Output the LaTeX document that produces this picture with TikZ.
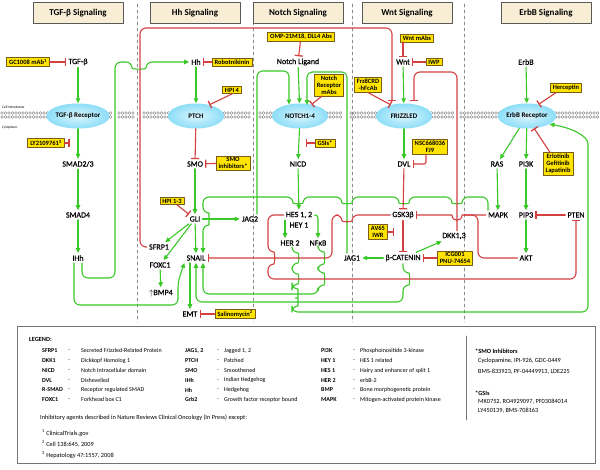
\documentclass[tikz,border=0pt]{standalone}
\usepackage{fontspec}
\setmainfont{Carlito}
\newfontfamily\molfont[FakeBold=0.5]{Carlito}
\usetikzlibrary{arrows.meta,shapes.geometric}
\definecolor{grn}{RGB}{58,200,40}
\definecolor{rd}{RGB}{212,64,64}
\definecolor{ylw}{RGB}{255,228,0}
\definecolor{ylwb}{RGB}{120,92,24}
\definecolor{bge}{RGB}{248,238,214}
\definecolor{cyn}{RGB}{140,222,248}
\definecolor{mbr}{RGB}{125,125,125}

\tikzset{
  hdr/.style={draw=black!65,fill=bge,line width=0.8pt,minimum width=90pt,minimum height=21pt,
    font=\fontsize{9}{10}\selectfont\bfseries},
  mol/.style={inner sep=2pt,font=\molfont\fontsize{8}{9}\selectfont},
  rcpt/.style={ellipse,shade,inner color=cyn!30,outer color=cyn,minimum width=56pt,minimum height=25pt,
    inner sep=0pt,font=\fontsize{7}{8}\selectfont\bfseries},
  drug/.style={draw=ylwb,fill=ylw,line width=0.6pt,align=center,inner xsep=2.5pt,inner ysep=1.5pt,
    font=\fontsize{6.5}{7}\selectfont\bfseries},
  act/.style={grn,line width=1.1pt,-{Triangle[length=5pt,width=4.5pt]}},
  inh/.style={rd,line width=1.1pt,-{Bar[width=8pt,line width=1.3pt]}},
  rdline/.style={rd,line width=1.1pt},
  membr/.style={mbr,line width=3.3pt,dash pattern=on 0pt off 3.5pt},
  membw/.style={white,line width=1.7pt,dash pattern=on 0pt off 3.5pt},
  colsep/.style={black!45,line width=0.6pt,dash pattern=on 3pt off 3pt},
  lgab/.style={anchor=west,inner sep=0pt,font=\fontsize{6}{7}\selectfont\bfseries},
  lgtx/.style={anchor=west,inner sep=0pt,font=\fontsize{6}{7}\selectfont},
  lgf/.style={anchor=west,inner sep=0pt,font=\fontsize{6.3}{7}\selectfont},
  lgh/.style={anchor=west,inner sep=0pt,font=\fontsize{6.3}{7}\selectfont\bfseries}
}

\begin{document}
\begin{tikzpicture}[x=1pt,y=-1pt,line cap=round,line join=round]
\fill[white] (0,0) rectangle (600,469);
\useasboundingbox (0,0) rectangle (600,469);

% columns and membrane
\foreach \x in {137,253,352,464} \draw[colsep] (\x,4) -- (\x,322);
\foreach \a/\b in {2/111,119/135,144/250,260/344,351/455,461/600}
  \foreach \y in {113,117} {
    \draw[membr] (\a,\y) -- (\b,\y);
    \draw[membw] (\a,\y) -- (\b,\y);
  }
\node[anchor=west,inner sep=0pt,font=\fontsize{3.6}{4}\selectfont\itshape] (cmem) at (2,107) {Cell Membrane};
\node[anchor=west,inner sep=0pt,font=\fontsize{3.6}{4}\selectfont\itshape] (cyto) at (2,127.5) {Cytoplasm};

% headers
\node[hdr] (htgf) at (78,13) {TGF-β Signaling};
\node[hdr] (hhh) at (195,13) {Hh Signaling};
\node[hdr] (hnot) at (298,13) {Notch Signaling};
\node[hdr] (hwnt) at (407,13) {Wnt Signaling};
\node[hdr] (herb) at (546,13) {ErbB Signaling};

% TGF-beta
\node[mol] (tgfb) at (78,62) {TGF-β};
\node[drug] (gc) at (28,62) {GC1008 mAb\textsuperscript{1}};
\node[rcpt] (tgfr) at (78,116) {TGF-β Receptor};
\node[drug] (ly) at (46,143) {LY2109761\textsuperscript{3}};
\node[mol] (smad) at (78,164) {SMAD2/3};
\node[mol] (smadf) at (78,215) {SMAD4};
\node[mol] (ihh) at (78,258) {IHh};

% Hh
\node[mol] (hh) at (196,62) {Hh};
\node[drug] (robo) at (232,62) {Robotnikinin};
\node[drug] (hpif) at (232,90) {HPI 4};
\node[rcpt] (ptch) at (196,116) {PTCH};
\node[mol] (smo) at (195,164) {SMO};
\node[drug] (smoi) at (233,163) {SMO\\inhibitors*};
\node[drug] (hpi) at (172,201) {HPI 1-3};
\node[mol] (gli) at (195,219) {GLI};
\node[mol] (sfrp) at (159,247) {SFRP1};
\node[mol] (foxc) at (160,265) {FOXC1};
\node[mol] (snail) at (196,258) {SNAIL};
\node[mol] (bmp) at (161,293) {$\uparrow$BMP4};
\node[mol] (emt) at (190,314) {EMT};
\node[drug] (sali) at (235,314) {Salinomycin\textsuperscript{2}};
\node[mol] (jagt) at (250,219) {JAG2};

% Notch
\node[drug] (omp) at (301,37) {OMP-21M18, DLL4 Abs};
\node[mol] (nlig) at (298,62) {Notch Ligand};
\node[rcpt] (notch) at (300,116) {NOTCH1-4};
\node[drug] (nrm) at (329,85) {Notch\\Receptor\\mAbs};
\node[drug] (gsi) at (325,143) {GSIs*};
\node[mol] (nicd) at (298,164) {NICD};
\node[mol] (hes) at (299,215) {HES 1, 2};
\node[mol] (hey) at (299,225) {HEY 1};
\node[mol] (her) at (290,243) {HER 2};
\node[mol] (nfkb) at (318,243) {NFκB};
\node[mol] (jago) at (352,258) {JAG1};

% Wnt
\node[drug] (wntm) at (417,38) {Wnt mAbs};
\node[mol] (wnt) at (403,62) {Wnt};
\node[drug] (iwp) at (434,62) {IWP};
\node[rcpt] (frz) at (404,116) {FRIZZLED};
\node[drug] (frzab) at (368,85) {Frz8CRD\\-hFcAb};
\node[drug] (nsc) at (430,147) {NSC668036\\FJ9};
\node[mol] (dvl) at (404,164) {DVL};
\node[mol] (gsk) at (403,215) {GSK3β};
\node[drug] (av) at (378,232) {AV65\\IWR};
\node[mol] (bcat) at (403,258) {β-CATENIN};
\node[drug] (icg) at (455,258) {ICG001\\PNU-74654};
\node[mol] (dkk) at (454,236) {DKK1,3};

% ErbB
\node[mol] (erbb) at (526,62) {ErbB};
\node[drug] (herc) at (566,88) {Herceptin};
\node[rcpt] (erbr) at (527,116) {ErbB Receptor};
\node[drug] (erl) at (558,164) {Erlotinib\\Gefitinib\\Lapatinib};
\node[mol] (ras) at (497,164) {RAS};
\node[mol] (pik) at (526,164) {PI3K};
\node[mol] (mapk) at (498,215) {MAPK};
\node[mol] (pip) at (526,215) {PIP3};
\node[mol] (pten) at (576,215) {PTEN};
\node[mol] (akt) at (526,258) {AKT};

% TGF-beta paths
\draw[act] (tgfb) -- (tgfr);
\draw[act] (tgfr) -- (smad);
\draw[act] (smad) -- (smadf);
\draw[act] (smadf) -- (ihh);
\draw[inh] (gc) -- (tgfb);
\draw[inh] (ly.east) -- ++(5,0);
\draw[act,rounded corners=6pt] ([xshift=4pt]ihh.south) |- (115,278) |- (132,62) .. controls (132,69.5) and (146,69.5) .. (146,62) -- (hh.west);
\draw[act,rounded corners=6pt] ([xshift=-4pt]ihh.south) |- (178,305) -- (178,282) -- (snail.south west);

% Hh paths
\draw[act] (hh) -- (ptch);
\draw[inh] (robo) -- (hh);
\draw[inh] (hpif.south) -- (ptch.40);
\draw[inh] (ptch) -- (smo);
\draw[inh] (smoi) -- (smo);
\draw[act] (smo) -- (gli);
\draw[inh] (hpi) -- (gli);
\draw[act] (gli) -- (sfrp);
\draw[act] (gli) -- (foxc);
\draw[act] (gli) -- (snail);
\draw[act] (gli) -- (jagt);
\draw[act] (foxc) -- (bmp);
\draw[act] (snail.south -| emt) -- (emt);
\draw[inh] (sali) -- (emt);

% Notch paths
\draw[inh] (omp) -- (nlig);
\draw[act] (nlig) -- (notch);
\draw[act,rounded corners=5pt] ([xshift=7pt]jagt.north) |- (289,71) -- (289,104.5);
\draw[act,rounded corners=5pt] ([xshift=-5pt]jago.north) |- (307,72) -- (307,105);
\draw[inh] ([xshift=-7pt]nrm.south) -- (notch.45);
\draw[act] (notch) -- (nicd);
\draw[inh] (gsi.west) -- ++(-9,0);
\draw[act] (nicd) -- (hes);
\draw[act,rounded corners=3pt] (hes.east) -| (nfkb.north);
\draw[act] ([xshift=-14pt]hes.south) -- ([xshift=-5pt]her.north);
\draw[act,rounded corners=6pt] ([xshift=2pt]her.south) -- (292,253) .. controls (299,253) and (299,263) .. (292,263)
  -- (292,274) .. controls (299,274) and (299,284) .. (292,284) -- (292,289)
  .. controls (298,289) and (298,298) .. (292,298) .. controls (298,298) and (298,306) .. (292,306)
  |- (588,312) -- (588,150) .. controls (588,136) and (572,128) .. (erbr.-20);
\draw[act,rounded corners=6pt] (nfkb.south) -- (318,252) .. controls (325,252) and (325,264) .. (318,264)
  -- (318,273) .. controls (325,273) and (325,285) .. (318,285) |- (203,294) -- ([xshift=7pt]snail.south);
\draw[act,rounded corners=6pt] (bcat.south) -- (403,273) .. controls (410,273) and (410,285) .. (403,285)
  |- (196,302) -- (snail.south);
\draw[act,rounded corners=6pt] ([xshift=-10pt]mapk.north) |- (462,197) .. controls (462,204) and (452,204) .. (452,197)
  -- (409,197) .. controls (409,204) and (399,204) .. (399,197)
  -- (352,197) .. controls (352,204) and (342,204) .. (342,197)
  -- (303,197) .. controls (303,204) and (293,204) .. (293,197)
  -| (203,213) .. controls (209,213) and (209,225) .. (203,225) -- ([xshift=7pt]snail.north);

% Wnt paths
\draw[inh] (wntm.south -| wnt) -- (wnt);
\draw[inh] (iwp) -- (wnt);
\draw[act] (wnt) -- (frz);
\draw[inh] (frzab.south) -- (frz.140);
\draw[inh,rounded corners=6pt] (sfrp.west) -| (140,28) -| (392,101);
\draw[inh,rounded corners=6pt] ([xshift=3pt]dkk.north) |- (414,72) -- (414,101);
\draw[act] (frz) -- (dvl);
\draw[inh,rounded corners=2pt] ([xshift=-4pt]nsc.south) |- (dvl.east);
\draw[inh] (dvl) -- (gsk);
\draw[inh] (gsk) -- (bcat);
\draw[inh] (av.east) -- ++(6,0);
\draw[inh] (icg) -- (bcat);
\draw[act] (bcat) -- (dkk);
\draw[act] (bcat) -- (jago);
\draw[inh,rounded corners=6pt] (gsk.west) -- (352,215) .. controls (352,222) and (342,222) .. (342,215) -| (332,258) -- (snail.east);
\draw[inh,rounded corners=6pt] (hes.west) -| (268,252) .. controls (275,252) and (275,264) .. (268,264) |- (576,279) -- (pten.south);

% ErbB paths
\draw[act] (erbb) -- (erbr);
\draw[inh] ([xshift=-10pt]herc.south) -- (erbr.45);
\draw[act] (erbr) -- (ras);
\draw[act] (erbr) -- (pik);
\draw[inh] ([xshift=-8pt]erl.north) -- (erbr.-60);
\draw[act] (ras) -- (mapk);
\draw[act] (pik) -- (pip);
\draw[act] (pip) -- (akt);
\draw[inh] (pten) -- (pip);
\draw[inh] (mapk.west) -- (462,215) .. controls (462,222) and (452,222) .. (452,215) -- (gsk.east);
\draw[rdline,rounded corners=6pt] (akt.west) -| (478,215) -- (464,215);

% legend
\draw[black!55,line width=0.8pt] (17,326) rectangle (595,463);
\draw[black!55,line width=0.6pt] (466,336) -- (466,420);
\node[lgh] (leg) at (29,339) {LEGEND:};
\foreach \ab/\df [count=\i] in {SFRP1/Secreted Frizzled-Related Protein,DKK1/Dickkopf Homolog 1,
  NICD/Notch Intracellular domain,DVL/Dishevelled,R-SMAD/Receptor regulated SMAD,FOXC1/Forkhead box C1}{
  \node[lgab] (aba\i) at (42,{341+9.8*\i}) {\ab};
  \node[lgtx] (daa\i) at (68,{341+9.8*\i}) {-};
  \node[lgtx] (dfa\i) at (81,{341+9.8*\i}) {\df};
}
\foreach \ab/\df [count=\i] in {{JAG1, 2}/{Jagged 1, 2},PTCH/Patched,SMO/Smoothened,
  IHh/Indian Hedgehog,Hh/Hedgehog,Grb2/Growth factor receptor bound}{
  \node[lgab] (abb\i) at (185,{341+9.8*\i}) {\ab};
  \node[lgtx] (dab\i) at (217,{341+9.8*\i}) {-};
  \node[lgtx] (dfb\i) at (224,{341+9.8*\i}) {\df};
}
\foreach \ab/\df [count=\i] in {PI3K/Phosphoinositide 3-kinase,HEY 1/HES 1 related,HES 1/Hairy and enhancer of split 1,
  HER 2/erbB-2,BMP/Bone morphogenetic protein,MAPK/Mitogen-activated protein kinase}{
  \node[lgab] (abc\i) at (321,{341+9.8*\i}) {\ab};
  \node[lgtx] (dac\i) at (353,{341+9.8*\i}) {-};
  \node[lgtx] (dfc\i) at (360,{341+9.8*\i}) {\df};
}
\node[lgh] (smoh) at (475,351) {*SMO Inhibitors};
\node[lgf] (smoa) at (478,361) {Cyclopamine, IPI-926, GDC-0449};
\node[lgf] (smob) at (478,372) {BMS-833923, PF-04449913, LDE225};
\node[lgh] (gsih) at (475,393) {*GSIs};
\node[lgf] (gsia) at (478,402) {MK0752, RO4929097, PF03084014};
\node[lgf] (gsib) at (478,411) {LY450139, BMS-708163};
\node[lgf] (inag) at (40,418) {Inhibitory agents described in Nature Reviews Clinical Oncology (In Press) except:};
\node[lgf] (refa) at (42,433) {\textsuperscript{1} ClinicalTrials.gov};
\node[lgf] (refb) at (42,444) {\textsuperscript{2} Cell 138:645, 2009};
\node[lgf] (refc) at (42,455) {\textsuperscript{3} Hepatology 47:1557, 2008};
\end{tikzpicture}
\end{document}
